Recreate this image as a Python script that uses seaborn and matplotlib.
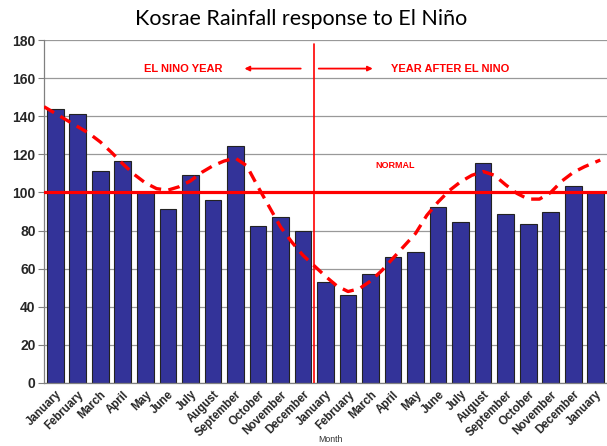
import matplotlib
matplotlib.use("Agg")
import matplotlib.pyplot as plt
import seaborn as sns
import pandas as pd

months = ["January", "February", "March", "April", "May", "June", "July",
          "August", "September", "October", "November", "December",
          "January", "February", "March", "April", "May", "June", "July",
          "August", "September", "October", "November", "December", "January"]
rainfall = [144, 141, 111, 116.5, 100, 91.5, 109, 96, 124.5, 82.5, 87, 80,
            53, 46, 57, 66, 69, 92.5, 84.5, 115.5, 88.5, 83.5, 89.5, 103.5, 100]

trend_pos = [-0.5, 0.0, 0.5, 1.0, 1.5, 2.0, 2.5, 3.0, 3.5, 4.0, 4.5, 5.0, 5.5,
             6.0, 6.5, 7.0, 7.5, 8.0, 8.5, 9.0, 9.5, 10.0, 10.5, 11.0, 11.5,
             12.0, 12.5, 13.0, 13.5, 14.0, 14.5, 15.0, 15.5, 16.0, 16.5, 17.0,
             17.5, 18.0, 18.5, 19.0, 19.5, 20.0, 20.5, 21.0, 21.5, 22.0, 22.5,
             23.0, 23.5, 24.0, 24.2]
trend_val = [145, 141.5, 138, 134.5, 131, 126.5, 121, 115, 109.5, 105, 102,
             101.2, 103, 106, 110.5, 114, 116.5, 118, 114, 103, 92.5, 82, 74,
             67, 61.5, 56, 51, 48, 49.5, 53.5, 59, 65.5, 72, 78.5, 88, 95,
             101, 105.6, 109, 111, 109, 104, 99.5, 96.5, 96.5, 100, 106,
             110.5, 113.5, 116, 117]

normal_level = 100
yticks = [0, 20, 40, 60, 80, 100, 120, 140, 160, 180]

df = pd.DataFrame({"idx": list(range(len(months))), "rain": rainfall})
trend = pd.DataFrame({"pos": trend_pos, "val": trend_val})

sns.set_style("white")
fig = plt.figure(figsize=(6.07, 4.46), dpi=100)
ax = fig.add_axes([44 / 607, 63 / 446, 563 / 607, 343 / 446])

ax.yaxis.grid(True, color="#999999", linewidth=0.9)
ax.set_axisbelow(True)

sns.barplot(data=df, x="idx", y="rain", color="#333399", saturation=1,
            edgecolor="#222222", linewidth=0.8, width=0.74, ax=ax)

sns.lineplot(data=trend, x="pos", y="val", ax=ax, color="red", linewidth=2.4,
             dashes=False, linestyle=(0, (3.5, 2.2)), zorder=4)

ax.axhline(normal_level, color="red", linewidth=2.3, zorder=5)
ax.plot([11.5, 11.5], [0, 178], color="red", linewidth=1.2, zorder=5)

ax.set_xlim(-0.5, 24.15)
ax.set_ylim(0, 180)
ax.set_yticks(yticks)
ax.set_yticklabels([str(v) for v in yticks], fontsize=10, fontweight="bold",
                   family="Liberation Sans")

ax.set_xticks(range(len(months)))
ax.set_xticklabels(months, rotation=45, ha="right", rotation_mode="anchor",
                   fontsize=8.3, fontweight="bold", family="Liberation Sans")
ax.set_xticks([i - 0.5 for i in range(len(months) + 1)], minor=True)
ax.tick_params(axis="x", which="major", length=0, pad=4)
ax.tick_params(axis="x", which="minor", length=4, color="#808080", width=0.8)
ax.tick_params(axis="y", length=4, color="#808080", width=0.8, left=True, pad=2)

for s in ["top", "right"]:
    ax.spines[s].set_visible(False)
for s in ["left", "bottom"]:
    ax.spines[s].set_color("#808080")
    ax.spines[s].set_linewidth(0.9)

ax.set_xlabel("")
ax.set_ylabel("")

ax.text(5.68, 165, "EL NINO YEAR", color="red", fontsize=8, fontweight="bold",
        family="Liberation Sans", ha="center", va="center")
ax.text(17.53, 165, "YEAR AFTER EL NINO", color="red", fontsize=8,
        fontweight="bold", family="Liberation Sans", ha="center", va="center")
ax.text(15.11, 114.4, "NORMAL", color="red", fontsize=6.5, fontweight="bold",
        family="Liberation Sans", ha="center", va="center")
ax.annotate("", xy=(8.4, 165), xytext=(10.9, 165),
            arrowprops=dict(arrowstyle="-|>", color="red", lw=1.3,
                            mutation_scale=7, shrinkA=0, shrinkB=0))
ax.annotate("", xy=(14.1, 165), xytext=(11.7, 165),
            arrowprops=dict(arrowstyle="-|>", color="red", lw=1.3,
                            mutation_scale=7, shrinkA=0, shrinkB=0))

fig.text(0.496, 0.958, "Kosrae Rainfall response to El Niño", fontsize=15.5,
         family="Lato", ha="center", va="center", color="black")
fig.text(330 / 607, 1 - 439 / 446, "Month", fontsize=6.3,
         family="Liberation Sans", ha="center", va="center", color="#333333")

fig.savefig("out.png", dpi=100)
